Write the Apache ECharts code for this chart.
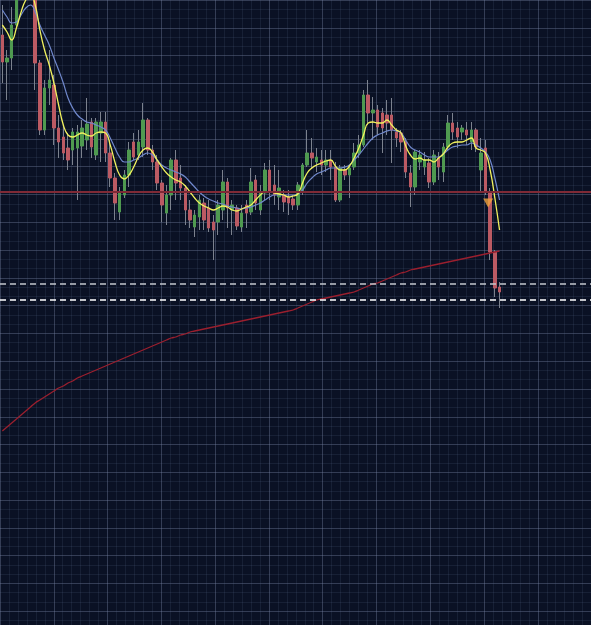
<!DOCTYPE html>
<html>
<head>
<meta charset="utf-8">
<script src="https://cdn.jsdelivr.net/npm/echarts@6/dist/echarts.min.js"></script>
<style>
html,body{margin:0;padding:0;background:#0a1124;}
#chart{width:591px;height:625px;}
</style>
</head>
<body>
<div id="chart"></div>
<script>
// candles (price units, higher = up)
var opens = [965,938,942,975,1005,1025,1010,1030,937,870,
	912,915,872,863,852,850,852,854,860,878,
	845,867,878,847,822,788,805,825,858,845,
	853,880,850,838,817,787,805,840,822,812,
	790,773,783,797,792,778,778,790,818,790,
	792,773,795,788,820,790,807,830,815,803,
	805,803,801,795,808,835,847,838,840,835,
	840,833,800,830,825,833,847,855,905,887,
	890,887,885,885,868,867,858,827,813,838,
	833,837,818,842,828,853,877,872,868,870,
	858,870,830,852,807,748,713];
var closes = [938,942,975,1005,1025,1010,1035,937,870,912,
	920,872,858,847,840,868,868,872,876,853,
	878,878,847,822,797,807,825,850,843,858,
	880,850,838,817,795,805,840,817,812,790,
	780,785,800,780,772,770,795,818,792,795,
	774,787,787,818,797,807,830,808,805,812,
	798,797,795,815,835,847,842,843,835,840,
	833,800,832,825,832,847,855,905,887,890,
	873,872,877,870,862,858,828,813,848,845,
	840,818,845,833,853,877,868,863,872,865,
	870,853,847,808,748,712,708];
var lows = [917,900,930,972,1000,1005,1005,910,865,865,
	895,855,842,840,830,835,800,842,850,842,
	840,838,838,813,780,780,802,813,840,840,
	843,845,830,810,778,775,790,800,800,775,
	772,763,770,770,768,740,765,780,772,765,
	770,768,772,785,790,785,800,800,795,790,
	788,785,790,790,805,833,832,828,825,828,
	820,798,798,820,802,830,842,853,875,860,
	865,847,865,837,853,848,822,793,805,830,
	825,812,815,820,818,850,860,852,860,855,
	850,848,807,805,740,703,692];
var highs = [995,950,993,1015,1035,1040,1045,1040,940,920,
	950,925,885,875,867,872,875,880,902,882,
	882,888,888,860,827,813,830,858,867,870,
	897,882,855,845,820,815,842,850,835,815,
	800,790,805,802,800,785,800,830,822,800,
	795,795,800,832,825,815,837,840,835,830,
	810,810,805,818,837,870,862,852,850,850,
	850,838,835,835,835,857,865,910,920,903,
	895,892,900,902,872,870,862,835,850,850,
	848,842,850,848,857,885,887,878,875,878,
	878,872,862,860,812,750,718];

// moving averages as drawn
var maFast = [975,968,960,972,988,1000,1005,995,970,950,
	935,917,895,875,865,863,865,867,865,864,
	867,868,867,855,838,825,821,825,833,843,
	850,852,848,840,833,827,823,820,818,814,
	808,802,797,794,792,790,792,794,793,790,
	789,791,793,795,800,805,808,808,807,806,
	805,803,804,806,817,827,832,835,837,839,
	840,834,830,830,834,842,852,865,877,878,
	877,877,880,875,870,867,854,845,841,842,
	840,840,838,842,846,853,857,858,858,860,
	862,852,850,847,830,802,770];
var maSlow = [990,983,977,978,985,992,995,988,975,965,
	955,942,930,917,902,892,885,881,878,877,
	875,873,870,862,852,843,838,838,840,842,
	845,847,845,840,835,832,830,828,826,823,
	818,813,808,804,801,799,797,796,794,793,
	792,791,792,793,795,797,800,803,805,805,
	805,805,805,806,810,817,822,826,828,830,
	832,832,832,833,835,840,845,851,857,862,
	865,867,869,870,869,867,860,853,850,848,
	845,843,843,843,846,850,853,854,855,855,
	857,855,852,848,840,822,800];
var maLong = [569,573,577,581,585,589,593,597,600,603,
	606,609,612,614,617,619,622,624,626,628,
	630,632,634,636,638,640,642,644,646,648,
	650,652,654,656,658,660,662,663,665,666,
	668,669,670,671,672,673,674,675,676,677,
	678,679,680,681,682,683,684,685,686,687,
	688,689,690,692,694,696,698,700,701,702,
	703,704,705,706,707,708,710,712,714,716,
	717,719,721,723,725,727,728,730,731,732,
	733,734,735,736,737,738,739,740,741,742,
	743,744,745,746,747,748,749];

var levelRed = 808;
var levelDash = [716, 700];
var signalIdx = [104];
var signalPrice = [797];
var slotCount = 126; // bars that fit the window, right side left empty

var cats = [];
for (var i = 0; i < slotCount; i++) { cats.push(String(i)); }

var wickData = [], bodyData = [];
for (var k = 0; k < opens.length; k++) {
	wickData.push([opens[k], closes[k], lows[k], highs[k]]);
	bodyData.push([opens[k], closes[k], Math.min(opens[k], closes[k]), Math.max(opens[k], closes[k])]);
}
var signalData = [];
for (var s = 0; s < signalIdx.length; s++) { signalData.push([String(signalIdx[s]), signalPrice[s]]); }

var chart = echarts.init(document.getElementById('chart'));
var hide = {show: false};
var majorLine = {show: true, lineStyle: {color: 'rgba(120,135,165,0.38)', width: 1}};
var minorLine = {show: true, lineStyle: {color: 'rgba(90,105,140,0.17)', width: 1}};
chart.setOption({
	animation: false,
	backgroundColor: '#0a1124',
	grid: [
		{left: 0, right: 0, top: 0, bottom: 0},
		{left: -2.4, right: 0, top: -11.6, bottom: 0}
	],
	xAxis: [
		{type: 'category', data: cats, gridIndex: 0, boundaryGap: true,
			axisLine: hide, axisTick: hide, axisLabel: hide, splitLine: hide},
		{type: 'value', gridIndex: 1, min: 0, max: 593.4, interval: 54,
			axisLine: hide, axisTick: hide, axisLabel: hide,
			splitLine: majorLine,
			minorTick: {show: false, splitNumber: 6},
			minorSplitLine: minorLine}
	],
	yAxis: [
		{type: 'value', gridIndex: 0, min: 375, max: 1000, scale: true,
			axisLine: hide, axisTick: hide, axisLabel: hide, splitLine: hide},
		{type: 'value', gridIndex: 1, inverse: true, min: 0, max: 636.6, interval: 28.3,
			axisLine: hide, axisTick: hide, axisLabel: hide,
			splitLine: majorLine,
			minorTick: {show: false, splitNumber: 3},
			minorSplitLine: minorLine}
	],
	series: [
		{
			type: 'candlestick', data: wickData, barWidth: 1,
			itemStyle: {color: '#7c828e', color0: '#7c828e', borderColor: '#7c828e', borderColor0: '#7c828e', borderWidth: 1}
		},
		{
			type: 'candlestick', data: bodyData, barWidth: 3,
			itemStyle: {color: '#4f9a50', color0: '#bb5a63', borderColor: '#4f9a50', borderColor0: '#bb5a63', borderWidth: 1}
		},
		{
			type: 'line', data: maLong, symbol: 'none', smooth: true,
			lineStyle: {color: '#9a1f2e', width: 1.3},
			markLine: {
				silent: true, symbol: 'none', label: hide,
				data: [
					{yAxis: levelRed, lineStyle: {color: '#7f2a36', width: 2, type: 'solid'}},
					{yAxis: levelDash[0], lineStyle: {color: '#c4c7cd', width: 1.5, type: [6, 4]}},
					{yAxis: levelDash[1], lineStyle: {color: '#ffffff', width: 1.5, type: [6, 4]}}
				]
			}
		},
		{
			type: 'line', data: maSlow, symbol: 'none', smooth: true,
			lineStyle: {color: '#7088cc', width: 1.2}
		},
		{
			type: 'line', data: maFast, symbol: 'none', smooth: true,
			lineStyle: {color: '#f2f25e', width: 1.3}
		},
		{
			type: 'scatter', data: signalData, symbol: 'triangle', symbolRotate: 180,
			symbolSize: [10, 9], symbolOffset: [-2, 0],
			itemStyle: {color: '#f0a23c'}
		}
	]
});
</script>
</body>
</html>
